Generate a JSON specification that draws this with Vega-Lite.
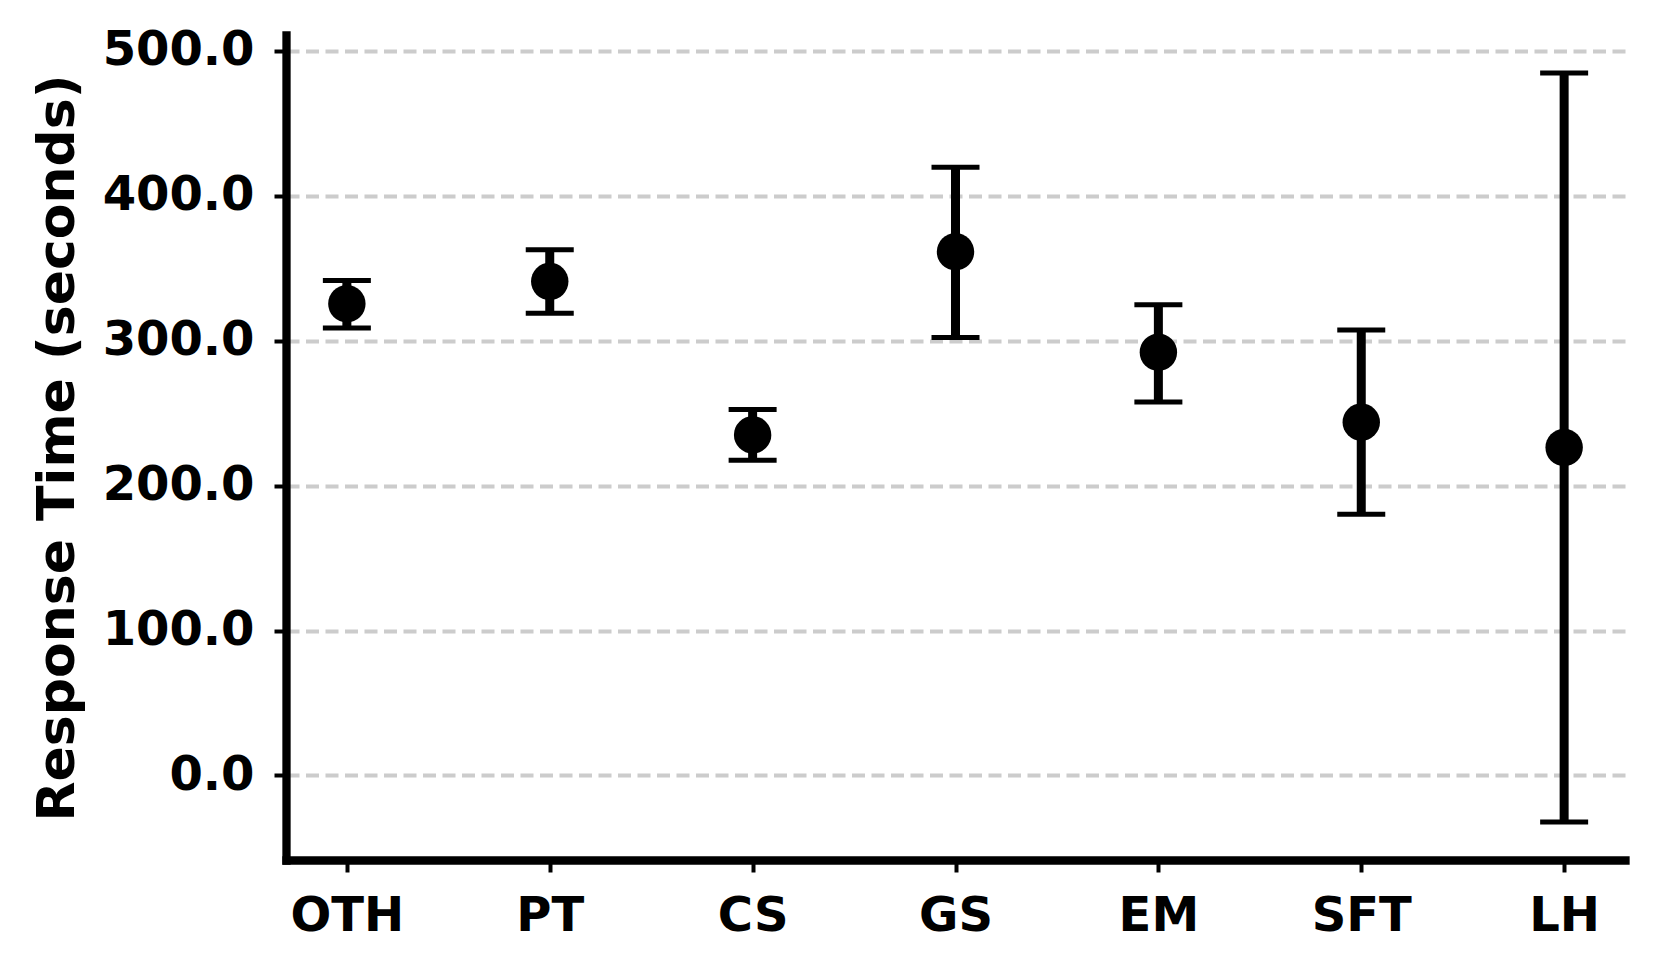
{
  "$schema": "https://vega.github.io/schema/vega-lite/v6.json",
  "autosize": {"type": "none"},
  "width": 1339,
  "height": 825,
  "padding": {"left": 286, "top": 35, "right": 34, "bottom": 114},
  "background": "white",
  "config": {
    "view": {"stroke": null},
    "font": "DejaVu Sans",
    "axis": {
      "labelFont": "DejaVu Sans",
      "labelFontWeight": "bold",
      "labelFontSize": 48,
      "labelColor": "black",
      "titleFont": "DejaVu Sans",
      "titleFontWeight": "bold",
      "titleFontSize": 52,
      "titleColor": "black",
      "domainColor": "black",
      "domainWidth": 8.3,
      "domainCap": "square",
      "tickColor": "black",
      "tickWidth": 4,
      "tickSize": 12
    }
  },
  "data": {
    "values": [
      {"cat": "OTH", "mean": 325.5, "lo": 308.8, "hi": 341.6},
      {"cat": "PT", "mean": 340.9, "lo": 319.0, "hi": 362.8},
      {"cat": "CS", "mean": 235.0, "lo": 217.5, "hi": 252.6},
      {"cat": "GS", "mean": 361.3, "lo": 302.2, "hi": 419.7},
      {"cat": "EM", "mean": 292.0, "lo": 257.7, "hi": 324.8},
      {"cat": "SFT", "mean": 243.8, "lo": 180.3, "hi": 307.3},
      {"cat": "LH", "mean": 226.3, "lo": -32.1, "hi": 484.7}
    ]
  },
  "encoding": {
    "x": {
      "field": "cat",
      "type": "nominal",
      "sort": null,
      "scale": {"type": "point", "padding": 0.3},
      "axis": {"title": null, "labelAngle": 0, "labelPadding": 20, "grid": false}
    }
  },
  "layer": [
    {
      "mark": {"type": "rule", "stroke": "black", "strokeWidth": 9, "opacity": 1},
      "encoding": {
        "y": {
          "field": "lo",
          "type": "quantitative",
          "scale": {"domain": [-58.3, 510.9], "nice": false, "zero": false},
          "axis": {
            "title": "Response Time (seconds)",
            "format": ".1f",
            "values": [0, 100, 200, 300, 400, 500],
            "grid": true,
            "gridColor": "#cccccc",
            "gridWidth": 4,
            "gridDash": [13, 6.5],
            "labelPadding": 20,
            "titlePadding": 18
          }
        },
        "y2": {"field": "hi"}
      }
    },
    {
      "mark": {"type": "tick", "color": "black", "opacity": 1, "size": 48, "thickness": 5, "orient": "horizontal"},
      "encoding": {"y": {"field": "lo", "type": "quantitative"}}
    },
    {
      "mark": {"type": "tick", "color": "black", "opacity": 1, "size": 48, "thickness": 5, "orient": "horizontal"},
      "encoding": {"y": {"field": "hi", "type": "quantitative"}}
    },
    {
      "mark": {"type": "circle", "color": "black", "opacity": 1, "size": 1400},
      "encoding": {"y": {"field": "mean", "type": "quantitative"}}
    }
  ]
}
